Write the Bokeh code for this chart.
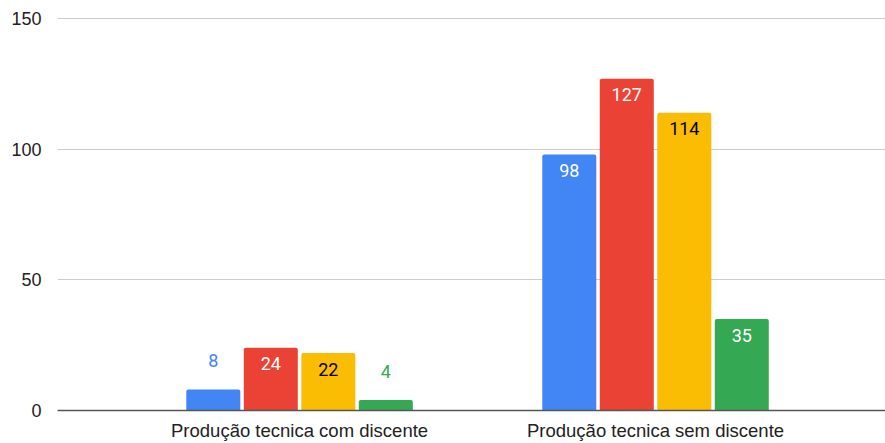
from bokeh.plotting import figure
from bokeh.models import ColumnDataSource, Range1d, FixedTicker
from bokeh.transform import dodge
from bokeh.core.properties import value
from bokeh.embed import file_html
from bokeh.resources import INLINE

categories = ["Produção tecnica com discente", "Produção tecnica sem discente"]
series_a = [8, 98]
series_b = [24, 127]
series_c = [22, 114]
series_d = [4, 35]
y_ticks = [0, 50, 100, 150]

series = [series_a, series_b, series_c, series_d]
colors = ["#4285F4", "#EA4335", "#FBBC04", "#34A853"]
inside_text_colors = ["#ffffff", "#ffffff", "#000000", "#ffffff"]
offsets = [-0.2423, -0.0808, 0.0808, 0.2423]
bar_w = 0.1517

p = figure(width=885, height=443, output_backend="svg", toolbar_location=None,
           x_range=Range1d(-0.68, 1.646), y_range=Range1d(0, 150.5))
p.min_border_left = 57
p.min_border_right = 0
p.min_border_top = 17
p.min_border_bottom = 30
p.outline_line_color = None
p.background_fill_color = "white"
p.border_fill_color = "white"

xs = list(range(len(categories)))
for i, vals in enumerate(series):
    src = ColumnDataSource(dict(x=xs, top=vals))
    p.vbar(x=dodge("x", offsets[i], range=p.x_range), top="top", width=bar_w,
           source=src, fill_color=colors[i], line_color=None, border_radius=[2, 2, 0, 0])
    inside_idx = [j for j, v in enumerate(vals) if v >= 15]
    outside_idx = [j for j, v in enumerate(vals) if v < 15]
    if inside_idx:
        s_in = ColumnDataSource(dict(x=[xs[j] for j in inside_idx], y=[vals[j] for j in inside_idx],
                                     lbl=[str(vals[j]) for j in inside_idx]))
        p.text(x=dodge("x", offsets[i], range=p.x_range), y="y", text="lbl", source=s_in,
               text_align="center", text_baseline="middle", y_offset=16,
               text_font=value("Roboto"), text_font_size="18px", text_color=inside_text_colors[i])
    if outside_idx:
        s_out = ColumnDataSource(dict(x=[xs[j] for j in outside_idx], y=[vals[j] for j in outside_idx],
                                      lbl=[str(vals[j]) for j in outside_idx]))
        p.text(x=dodge("x", offsets[i], range=p.x_range), y="y", text="lbl", source=s_out,
               text_align="center", text_baseline="middle", y_offset=-29,
               text_font=value("Roboto"), text_font_size="18px", text_color=colors[i])

p.xgrid.grid_line_color = None
p.ygrid.grid_line_color = "#cccccc"
p.ygrid.ticker = FixedTicker(ticks=y_ticks)

p.yaxis.ticker = FixedTicker(ticks=y_ticks)
p.yaxis.axis_line_color = None
p.yaxis.major_tick_line_color = None
p.yaxis.minor_tick_line_color = None
p.yaxis.major_label_text_font = "Liberation Sans"
p.yaxis.major_label_text_font_size = "18px"
p.yaxis.major_label_text_color = "#222222"
p.yaxis.major_label_standoff = 10

p.xaxis.ticker = FixedTicker(ticks=xs)
p.xaxis.major_label_overrides = {i: c for i, c in enumerate(categories)}
p.xaxis.axis_line_color = "#555555"
p.xaxis.axis_line_width = 1.5
p.xaxis.major_tick_line_color = None
p.xaxis.minor_tick_line_color = None
p.xaxis.major_label_text_font = "Liberation Sans"
p.xaxis.major_label_text_font_size = "18.5px"
p.xaxis.major_label_text_color = "#222222"
p.xaxis.major_label_standoff = 3

open("out.html", "w").write(file_html(p, INLINE))
